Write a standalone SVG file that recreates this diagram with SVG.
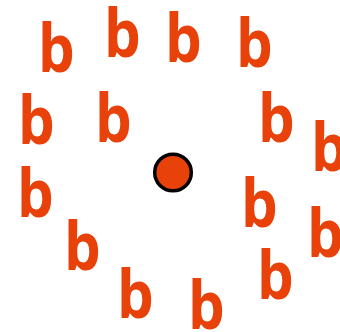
<svg xmlns="http://www.w3.org/2000/svg" width="340" height="332" viewBox="0 0 340 332">
<style>
.b{font-family:"Open Sans","Noto Sans",sans-serif;font-size:66px;font-weight:700;fill:#e8420a;}
</style>
<rect width="340" height="332" fill="#fff"/>
<g id="letters">
<text class="b" transform="translate(38,72) scale(0.88,1)">b</text>
<text class="b" transform="translate(104,57) scale(0.88,1)">b</text>
<text class="b" transform="translate(165,62) scale(0.88,1)">b</text>
<text class="b" transform="translate(236,67) scale(0.88,1)">b</text>
<text class="b" transform="translate(18,144) scale(0.88,1)">b</text>
<text class="b" transform="translate(95,142) scale(0.88,1)">b</text>
<text class="b" transform="translate(258,142) scale(0.88,1)">b</text>
<text class="b" transform="translate(311,171) scale(0.88,1)">b</text>
<text class="b" transform="translate(17,217) scale(0.88,1)">b</text>
<text class="b" transform="translate(64,270) scale(0.88,1)">b</text>
<text class="b" transform="translate(117,318) scale(0.88,1)">b</text>
<text class="b" transform="translate(188,329) scale(0.88,1)">b</text>
<text class="b" transform="translate(241,227) scale(0.88,1)">b</text>
<text class="b" transform="translate(307,257) scale(0.88,1)">b</text>
<text class="b" transform="translate(257,299) scale(0.88,1)">b</text>
</g>
<g id="dot">
<circle cx="173" cy="172.5" r="18.3" fill="#e8420a" stroke="#000" stroke-width="3.5"/>
</g>
</svg>
